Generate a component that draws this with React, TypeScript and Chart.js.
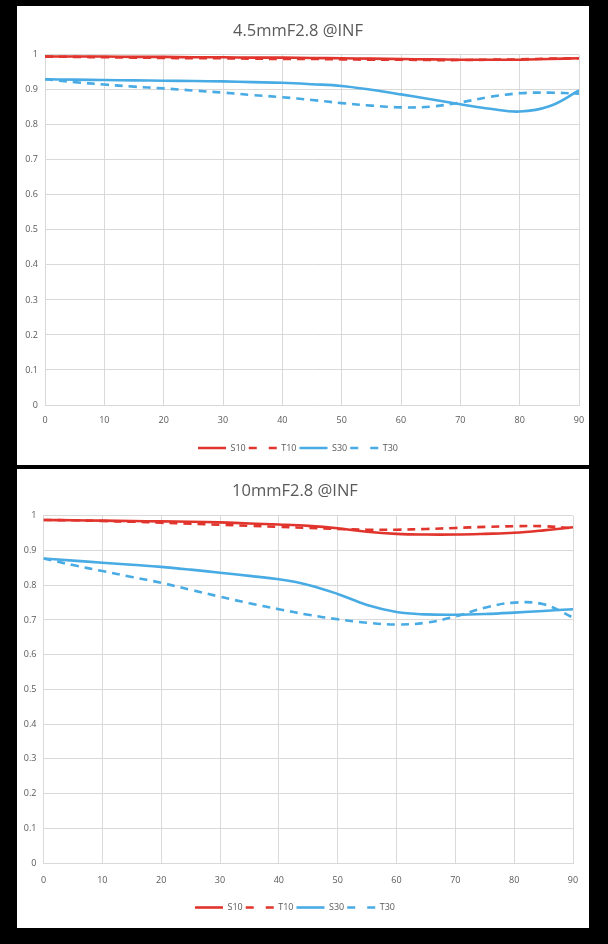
import React, { useEffect, useRef } from 'react';
import { Chart, registerables } from 'chart.js';

Chart.register(...registerables);

// field angle, step 5
const angles = [0, 5, 10, 15, 20, 25, 30, 35, 40, 45, 50, 55, 60, 65, 70, 75, 80, 85, 90];
const seriesNames = ['S10', 'T10', 'S30', 'T30'];
const yTicks = [0, 0.1, 0.2, 0.3, 0.4, 0.5, 0.6, 0.7, 0.8, 0.9, 1];

// 4.5mm
const wideS10 = [0.995, 0.995, 0.995, 0.994, 0.994, 0.993, 0.993, 0.992, 0.992, 0.991, 0.99, 0.989, 0.988, 0.987, 0.986, 0.986, 0.986, 0.988, 0.99];
const wideT10 = [0.995, 0.994, 0.993, 0.992, 0.991, 0.99, 0.99, 0.989, 0.988, 0.988, 0.987, 0.986, 0.986, 0.985, 0.985, 0.986, 0.987, 0.989, 0.99];
const wideS30 = [0.93, 0.929, 0.928, 0.927, 0.926, 0.925, 0.924, 0.922, 0.92, 0.916, 0.911, 0.9, 0.887, 0.873, 0.859, 0.846, 0.838, 0.853, 0.898];
const wideT30 = [0.93, 0.922, 0.915, 0.909, 0.904, 0.898, 0.892, 0.885, 0.879, 0.871, 0.862, 0.855, 0.85, 0.852, 0.864, 0.88, 0.89, 0.892, 0.889];

// 10mm
const teleS10 = [0.988, 0.987, 0.986, 0.985, 0.984, 0.983, 0.981, 0.978, 0.975, 0.971, 0.964, 0.954, 0.948, 0.946, 0.946, 0.948, 0.951, 0.958, 0.967];
const teleT10 = [0.988, 0.987, 0.985, 0.983, 0.98, 0.977, 0.974, 0.971, 0.968, 0.965, 0.962, 0.96, 0.96, 0.962, 0.965, 0.968, 0.97, 0.97, 0.964];
const teleS30 = [0.877, 0.871, 0.865, 0.859, 0.853, 0.845, 0.836, 0.827, 0.817, 0.801, 0.775, 0.743, 0.723, 0.716, 0.715, 0.717, 0.721, 0.726, 0.731];
const teleT30 = [0.877, 0.858, 0.841, 0.824, 0.807, 0.787, 0.767, 0.748, 0.731, 0.715, 0.702, 0.692, 0.687, 0.692, 0.71, 0.735, 0.75, 0.745, 0.707];

const RED = '#e0342c';
const BLUE = '#49abe4';
const GREY = '#595959';
const FONT = '"Open Sans", sans-serif';

type Layout = {
  titleTop: number;
  titleBottom: number;
  left: number;
  right: number;
  xHeight: number;
  xPad: number;
  bottom: number;
};

const PANEL_W = 572;
const PANEL_H = 459;

const MtfChart: React.FC<{ title: string; series: number[][]; lay: Layout }> = ({ title, series, lay }) => {
  const canvasRef = useRef<HTMLCanvasElement | null>(null);

  useEffect(() => {
    const ctx = canvasRef.current?.getContext('2d');
    if (!ctx) return;

    const colors = [RED, RED, BLUE, BLUE];
    const chart = new Chart(ctx, {
      type: 'line',
      data: {
        datasets: series.map((vals, i) => ({
          label: seriesNames[i],
          data: angles.map((a, j) => ({ x: a, y: vals[j] })),
          borderColor: colors[i],
          backgroundColor: colors[i],
          borderWidth: 2.6,
          borderDash: i % 2 === 1 ? [8, 6] : [],
          pointRadius: 0,
          tension: 0.4,
          fill: false
        }))
      },
      options: {
        responsive: false,
        animation: false,
        layout: { padding: { left: 0, right: lay.right, top: 0, bottom: lay.bottom } },
        plugins: {
          title: {
            display: true,
            text: title,
            color: GREY,
            font: { family: FONT, size: 16.5, weight: 'normal' },
            padding: { top: lay.titleTop, bottom: lay.titleBottom }
          },
          legend: {
            position: 'bottom',
            labels: {
              usePointStyle: true,
              pointStyle: 'line',
              pointStyleWidth: 28,
              boxHeight: 9,
              padding: 3,
              color: GREY,
              font: { family: FONT, size: 9 },
              // point style drops the dash, so put it back from the dataset
              generateLabels: (c) =>
                Chart.defaults.plugins.legend.labels.generateLabels(c).map((l) => ({
                  ...l,
                  lineWidth: 2.6,
                  strokeStyle: colors[l.datasetIndex ?? 0],
                  lineDash: (l.datasetIndex ?? 0) % 2 === 1 ? [8, 12] : []
                }))
            }
          },
          tooltip: { enabled: false }
        },
        scales: {
          x: {
            type: 'linear',
            min: 0,
            max: 90,
            afterFit: (s) => {
              s.height = lay.xHeight;
              s.paddingLeft = 0;
              s.paddingRight = 0;
            },
            ticks: { stepSize: 10, padding: lay.xPad, color: GREY, font: { family: FONT, size: 9 } },
            grid: { color: '#d9d9d9', drawTicks: false },
            border: { color: '#d9d9d9' }
          },
          y: {
            min: 0,
            max: 1,
            afterFit: (s) => {
              s.width = lay.left;
            },
            afterBuildTicks: (s) => {
              s.ticks = yTicks.map((v) => ({ value: v }));
            },
            ticks: {
              padding: 7,
              color: GREY,
              font: { family: FONT, size: 9 },
              callback: (v) => String(Number(Number(v).toFixed(1)))
            },
            grid: { color: '#d9d9d9', drawTicks: false },
            border: { color: '#d9d9d9' }
          }
        }
      }
    });

    return () => {
      chart.destroy();
    };
  }, [title, series, lay]);

  return <canvas ref={canvasRef} width={PANEL_W} height={PANEL_H}></canvas>;
};

const topLayout: Layout = { titleTop: 15, titleBottom: 14, left: 28, right: 10, xHeight: 35.5, xPad: 10, bottom: 2.5 };
const bottomLayout: Layout = { titleTop: 12, titleBottom: 15, left: 26.5, right: 16, xHeight: 37, xPad: 12, bottom: 6 };

const topSeries = [wideS10, wideT10, wideS30, wideT30];
const bottomSeries = [teleS10, teleT10, teleS30, teleT30];

const panel = (top: number): React.CSSProperties => ({
  position: 'absolute',
  left: 17,
  top,
  width: PANEL_W,
  height: PANEL_H,
  background: '#ffffff'
});

export default function App() {
  return (
    <div style={{ position: 'fixed', left: 0, top: 0, width: 608, height: 944, background: '#000000' }}>
      <div style={panel(6)}>
        <MtfChart title="4.5mmF2.8 @INF" series={topSeries} lay={topLayout} />
      </div>
      <div style={panel(469)}>
        <MtfChart title="10mmF2.8 @INF" series={bottomSeries} lay={bottomLayout} />
      </div>
    </div>
  );
}
